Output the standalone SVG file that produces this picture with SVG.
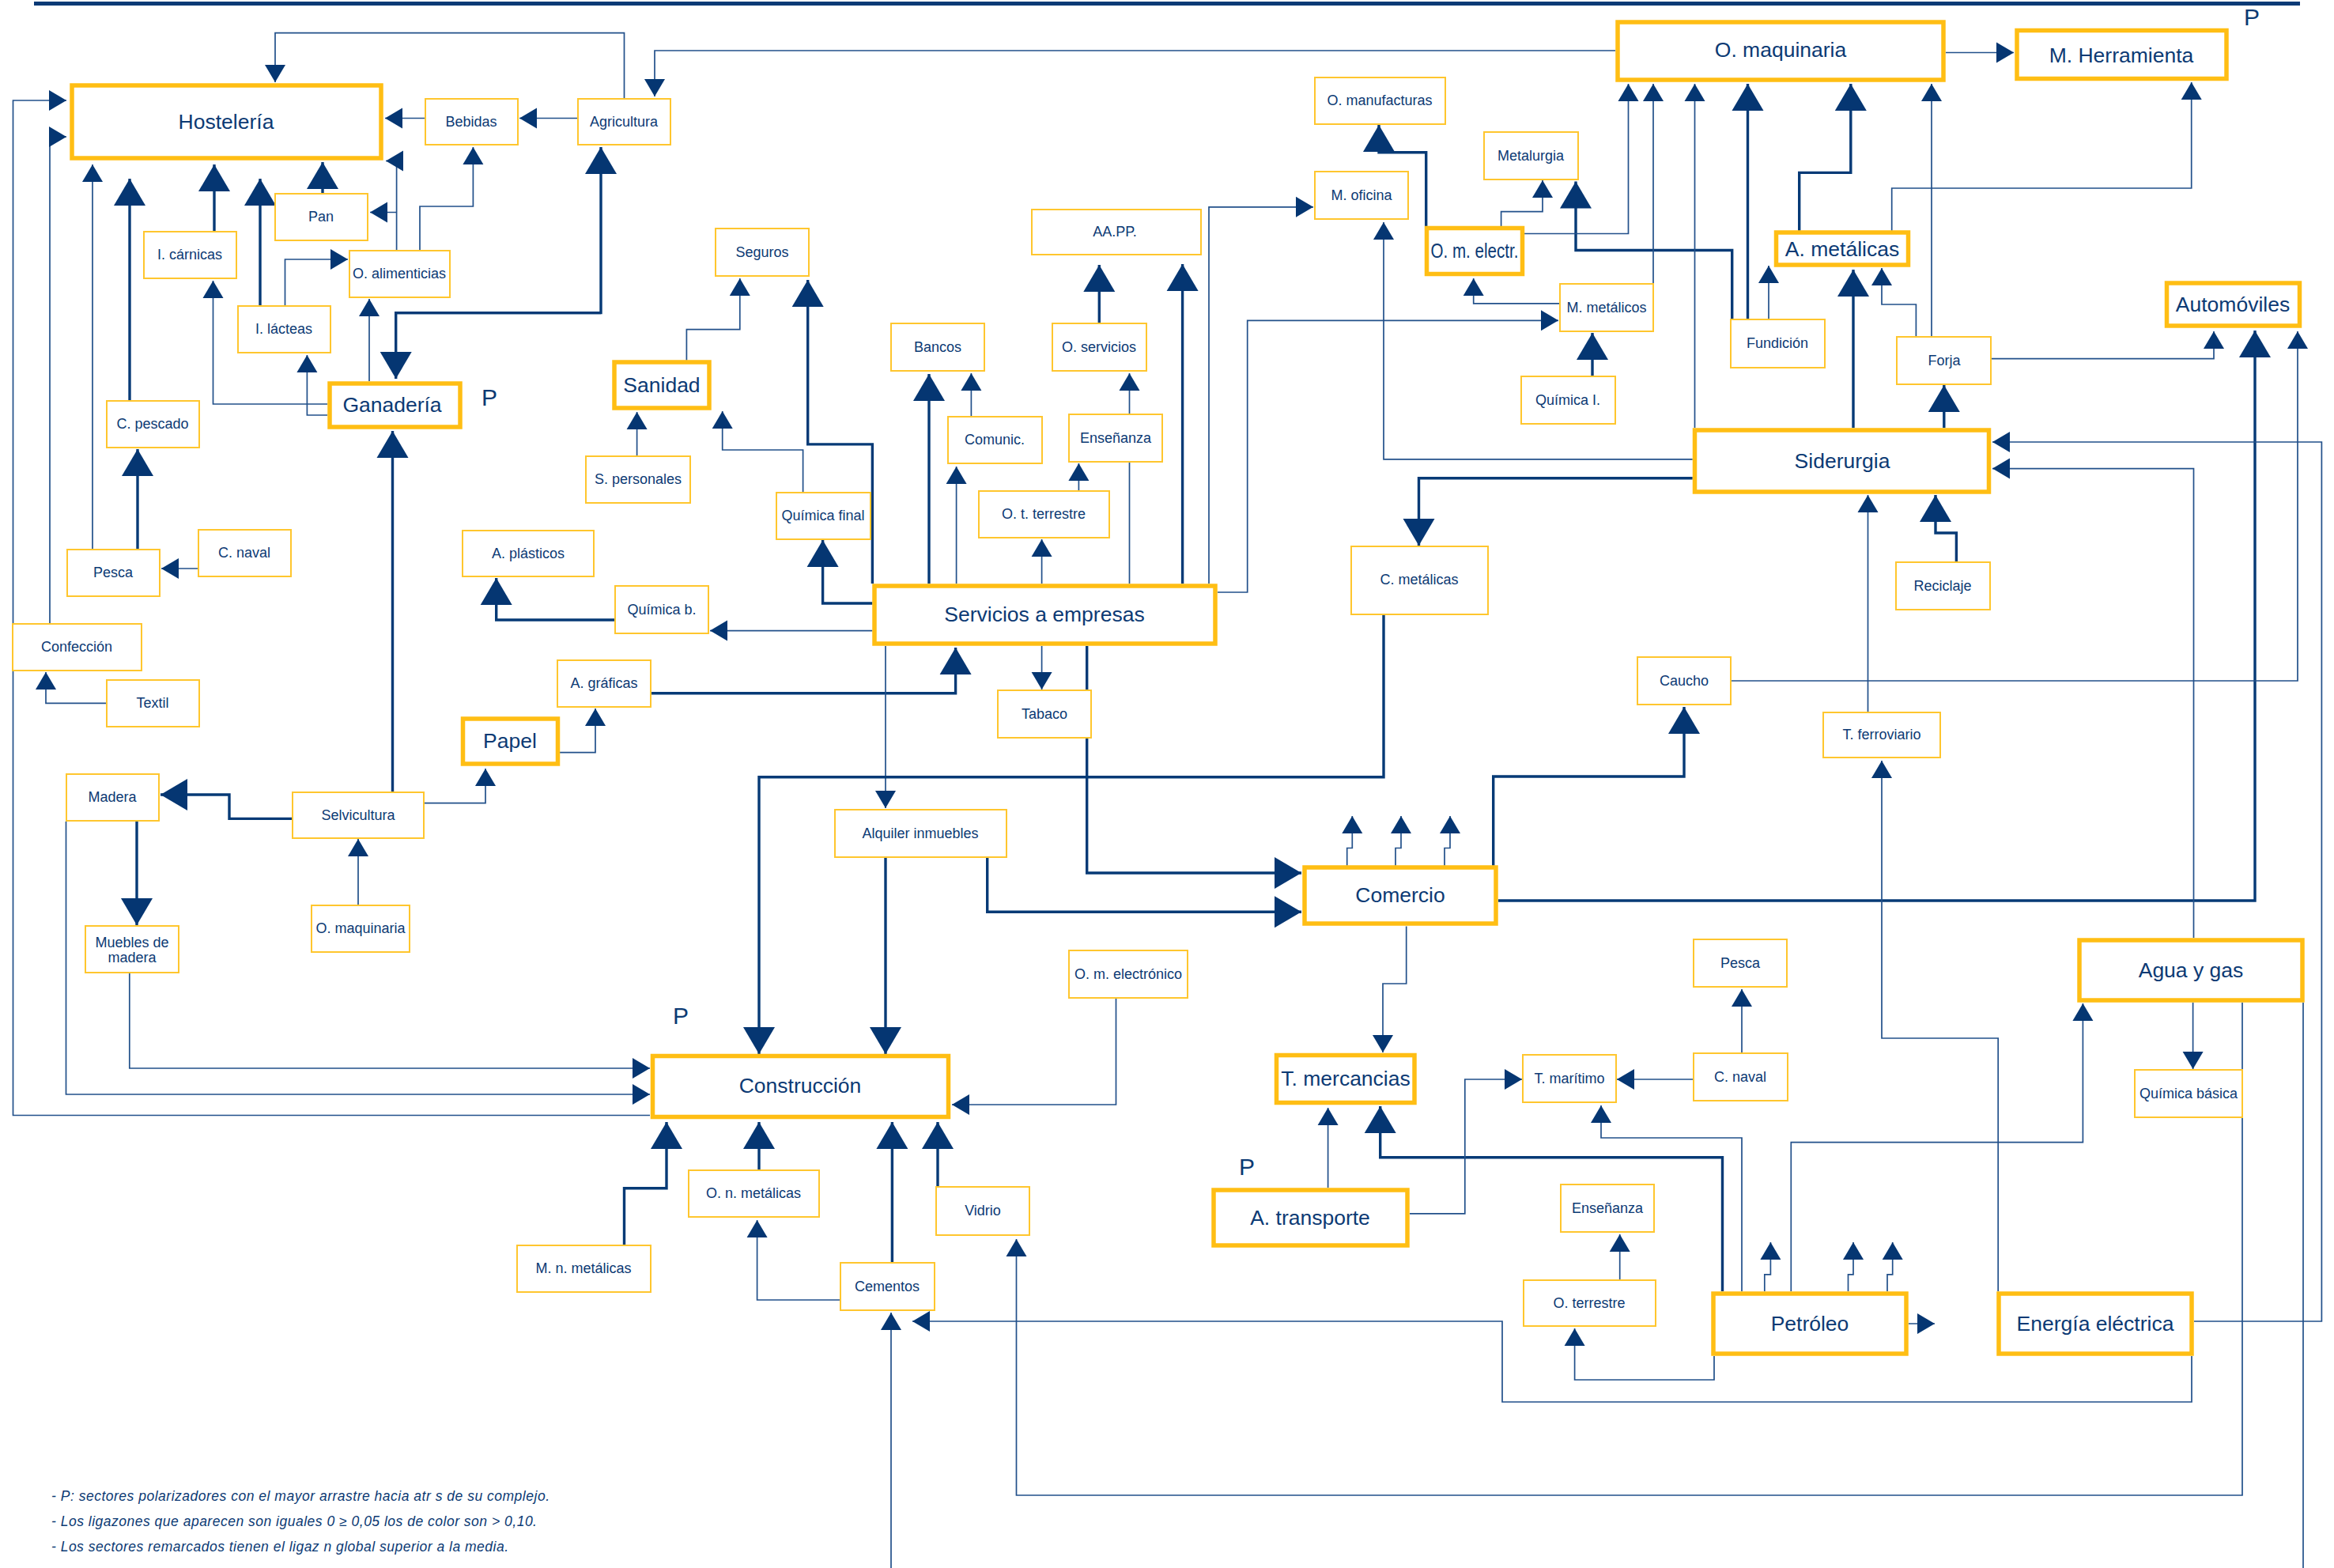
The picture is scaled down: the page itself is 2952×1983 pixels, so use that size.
<svg xmlns="http://www.w3.org/2000/svg" width="2952" height="1983" viewBox="0 0 2952 1983">
<style>
.n{fill:#fff;stroke:#FFC62E;stroke-width:2}
.N{fill:#fff;stroke:#FFBE14;stroke-width:5.5}
text{font-family:"Liberation Sans",Arial,sans-serif;fill:#0c3a74}
.t{font-size:18px;text-anchor:middle;dominant-baseline:central}
.T{font-size:26.5px;text-anchor:middle;dominant-baseline:central}
.p{font-size:30px}
.f{font-size:17.5px;font-style:italic}
.c path{fill:none;stroke-linejoin:miter}
.c .a{stroke:#22508a;stroke-width:1.7;marker-end:url(#s)}
.c .l{stroke:#22508a;stroke-width:1.7}
.c .A{stroke:#063a76;stroke-width:3.4;marker-end:url(#b)}
</style>
<defs>
<marker id="s" markerUnits="userSpaceOnUse" markerWidth="22" markerHeight="26" refX="22" refY="13" orient="auto" overflow="visible"><path d="M0,0L22,13L0,26z" fill="#053672"/></marker>
<marker id="b" markerUnits="userSpaceOnUse" markerWidth="34" markerHeight="40" refX="34" refY="20" orient="auto" overflow="visible"><path d="M0,0L34,20L0,40z" fill="#053672"/></marker>
</defs>
<rect width="2952" height="1983" fill="#fff"/>
<line x1="43" y1="4.5" x2="2909" y2="4.5" stroke="#0a3a76" stroke-width="5"/>

<g id="connectors" class="c">
<path class="a" d="M789.5,124V41.7H348V104"/>
<path class="a" d="M2043,64H828V122"/>
<path class="a" d="M537,149.5H487"/>
<path class="a" d="M730,149.5H657"/>
<path class="a" d="M501.6,316V203.5H488"/>
<path class="a" d="M501.6,268.5H468"/>
<path class="a" d="M531,316V261H598.4V186"/>
<path class="a" d="M360.5,387V328H440"/>
<path class="a" d="M414,511H269.5V355"/>
<path class="a" d="M414,525H388.4V449"/>
<path class="a" d="M467,482V378"/>
<path class="A" d="M500.7,395.6H760V186"/>
<path class="A" d="M760,395.6H500.7V479"/>
<path class="A" d="M496.5,1001V545"/>
<path class="A" d="M271,292V208"/>
<path class="A" d="M164,506V226"/>
<path class="A" d="M329,386V226"/>
<path class="A" d="M408,244V205"/>
<path class="a" d="M117,695V208"/>
<path class="a" d="M63,788V173H84"/>
<path class="a" d="M822,1410.5H16.5V127H84"/>
<path class="A" d="M174,695V568"/>
<path class="a" d="M250.6,719H204"/>
<path class="a" d="M134.5,889.4H58V850"/>
<path class="A" d="M369.5,1035.4H290V1005H203"/>
<path class="A" d="M173,1039V1170"/>
<path class="a" d="M536.6,1015.6H614V972"/>
<path class="a" d="M453,1144V1061"/>
<path class="a" d="M83.5,1039V1384H822"/>
<path class="a" d="M163.8,1231V1351H822"/>
<path class="a" d="M708,951.7H753V896"/>
<path class="A" d="M823.5,876.7H1208.6V819"/>
<path class="A" d="M777.8,784H627.7V731"/>
<path class="a" d="M1103.4,797.6H898"/>
<path class="A" d="M1103.4,763H1040.6V683"/>
<path class="A" d="M1103.4,738V561.9H1021.7V354"/>
<path class="a" d="M868.4,455.8V416.7H935.8V352"/>
<path class="a" d="M805.6,576.6V521"/>
<path class="a" d="M1015.6,622V569H913.7V520"/>
<path class="A" d="M1175,738V473"/>
<path class="a" d="M1228.4,526V472"/>
<path class="a" d="M1209.6,738V590"/>
<path class="a" d="M1317.6,738V682"/>
<path class="a" d="M1364.4,620.8V586"/>
<path class="a" d="M1428.5,523.6V472"/>
<path class="l" d="M1428.5,738V584"/>
<path class="A" d="M1390.3,408V335"/>
<path class="A" d="M1495.6,738V334"/>
<path class="a" d="M1529,738V261.8H1661"/>
<path class="a" d="M1540,749H1577.7V405.3H1971"/>
<path class="a" d="M1317.6,817V872"/>
<path class="a" d="M1120,817V1022"/>
<path class="A" d="M1374.7,817V1104H1646"/>
<path class="A" d="M1248.7,1084V1153.3H1646"/>
<path class="A" d="M1120,1084V1333"/>
<path class="A" d="M1750,777.4V982.8H960V1333"/>
<path class="A" d="M2140.7,604.8H1794.5V690"/>
<path class="a" d="M2140.7,580.8H1750V281"/>
<path class="A" d="M1803.7,286V192.8H1744V158"/>
<path class="a" d="M1898.6,286V267.7H1951V228"/>
<path class="A" d="M2190.7,404V316.5H1993V229.5"/>
<path class="a" d="M1928,295.5H2059.5V106"/>
<path class="a" d="M2091,358.6V106"/>
<path class="a" d="M2143.5,541V106"/>
<path class="A" d="M2210.5,404V106"/>
<path class="a" d="M1972.7,383.8H1863.7V352"/>
<path class="A" d="M2014,475.6V421"/>
<path class="A" d="M2275.7,291.7V218.4H2340.8V106"/>
<path class="a" d="M2443,426V106"/>
<path class="a" d="M2392.7,291.7V238H2771.7V104"/>
<path class="a" d="M2461,66.5H2547"/>
<path class="a" d="M2237,404V336"/>
<path class="A" d="M2344,541V341"/>
<path class="a" d="M2423.4,426V385H2380V339"/>
<path class="A" d="M2458.8,541V487"/>
<path class="a" d="M2518.7,453.7H2800V419"/>
<path class="A" d="M1895,1139H2852V418"/>
<path class="a" d="M2189,861H2906V419"/>
<path class="a" d="M2775,1671H2936.4V559H2520"/>
<path class="a" d="M2774.5,1186V592.6H2520"/>
<path class="a" d="M2362.5,900.7V626"/>
<path class="A" d="M2474.4,711V674H2448V626"/>
<path class="A" d="M1888.7,1094.8V982H2130V894"/>
<path class="a" d="M1703.7,1094.8V1072.5H1710.3V1032"/>
<path class="a" d="M1765,1094.8V1072.5H1772V1032"/>
<path class="a" d="M1827,1094.8V1072.5H1834V1032"/>
<path class="a" d="M1778.7,1171.4V1244H1749V1331"/>
<path class="a" d="M2527.2,1633V1313H2380V962"/>
<path class="a" d="M2265.3,1633V1444.7H2634.4V1269"/>
<path class="a" d="M2773.6,1268V1352"/>
<path class="a" d="M2836,1268V1891H1285.5V1567"/>
<path class="l" d="M2913,1268V1983"/>
<path class="a" d="M1127,1983V1660"/>
<path class="a" d="M2772,1715V1773H1900V1671H1154"/>
<path class="A" d="M2178.5,1633V1463.8H1745.7V1399"/>
<path class="a" d="M2203,1633V1439H2025V1398"/>
<path class="a" d="M2142,1365H2045"/>
<path class="a" d="M2203,1332V1251"/>
<path class="a" d="M1679.6,1502V1401"/>
<path class="a" d="M1783,1534.8H1852.8V1365H1925"/>
<path class="a" d="M2048.7,1618.5V1561"/>
<path class="a" d="M2168,1715V1745H1991.6V1680"/>
<path class="a" d="M2231.8,1633V1611.8H2239.4V1571"/>
<path class="a" d="M2337.5,1633V1611.8H2344V1571"/>
<path class="a" d="M2387,1633V1611.8H2393.7V1571"/>
<path class="a" d="M2414,1674H2447"/>
<path class="a" d="M1411.5,1262.7V1397H1204"/>
<path class="A" d="M789.5,1574V1502.7H843V1419"/>
<path class="A" d="M960,1479V1419"/>
<path class="A" d="M1128.4,1597V1419"/>
<path class="A" d="M1186,1501V1419"/>
<path class="a" d="M1063,1644H957.6V1543"/>
</g>

<g id="hosteleria"><rect class="N" x="91" y="108" width="391" height="92"/><text class="T" x="286" y="154">Hostelería</text></g>
<g id="bebidas"><rect class="n" x="538" y="125" width="117" height="58"/><text class="t" x="596" y="154">Bebidas</text></g>
<g id="agricultura"><rect class="n" x="731" y="125" width="117" height="58"/><text class="t" x="789" y="154">Agricultura</text></g>
<g id="pan"><rect class="n" x="348" y="245" width="117" height="59"/><text class="t" x="406" y="274">Pan</text></g>
<g id="i-carnicas"><rect class="n" x="182" y="293" width="117" height="59"/><text class="t" x="240" y="322">I. cárnicas</text></g>
<g id="o-alimenticias"><rect class="n" x="442" y="317" width="127" height="59"/><text class="t" x="505" y="346">O. alimenticias</text></g>
<g id="i-lacteas"><rect class="n" x="301" y="387" width="117" height="59"/><text class="t" x="359" y="416">I. lácteas</text></g>
<g id="ganaderia"><rect class="N" x="417" y="485" width="165" height="55"/><text class="T" x="496" y="512">Ganadería</text><text class="p" x="609" y="513">P</text></g>
<g id="c-pescado"><rect class="n" x="135" y="507" width="117" height="59"/><text class="t" x="193" y="536">C. pescado</text></g>
<g id="pesca-1"><rect class="n" x="85" y="695" width="117" height="59"/><text class="t" x="143" y="724">Pesca</text></g>
<g id="c-naval-1"><rect class="n" x="251" y="670" width="117" height="59"/><text class="t" x="309" y="699">C. naval</text></g>
<g id="confeccion"><rect class="n" x="16" y="789" width="163" height="59"/><text class="t" x="97" y="818">Confección</text></g>
<g id="textil"><rect class="n" x="135" y="860" width="117" height="59"/><text class="t" x="193" y="889">Textil</text></g>
<g id="madera"><rect class="n" x="84" y="979" width="117" height="59"/><text class="t" x="142" y="1008">Madera</text></g>
<g id="selvicultura"><rect class="n" x="370" y="1002" width="166" height="58"/><text class="t" x="453" y="1031">Selvicultura</text></g>
<g id="muebles"><rect class="n" x="108" y="1171" width="118" height="59"/><text class="t" x="167" y="1192">Muebles de</text><text class="t" x="167" y="1211">madera</text></g>
<g id="o-maquinaria-2"><rect class="n" x="394" y="1145" width="124" height="59"/><text class="t" x="456" y="1174">O. maquinaria</text></g>
<g id="papel"><rect class="N" x="585.5" y="909" width="120" height="57"/><text class="T" x="645" y="937">Papel</text></g>
<g id="a-graficas"><rect class="n" x="705" y="835" width="118" height="59"/><text class="t" x="764" y="864">A. gráficas</text></g>
<g id="a-plasticos"><rect class="n" x="585" y="671" width="166" height="58"/><text class="t" x="668" y="700">A. plásticos</text></g>
<g id="quimica-b"><rect class="n" x="778" y="741" width="118" height="60"/><text class="t" x="837" y="771">Química b.</text></g>
<g id="s-personales"><rect class="n" x="741" y="577" width="132" height="59"/><text class="t" x="807" y="606">S. personales</text></g>
<g id="sanidad"><rect class="N" x="777" y="458" width="120" height="58"/><text class="T" x="837" y="487">Sanidad</text></g>
<g id="seguros"><rect class="n" x="905" y="289" width="118" height="60"/><text class="t" x="964" y="319">Seguros</text></g>
<g id="quimica-final"><rect class="n" x="982" y="623" width="119" height="59"/><text class="t" x="1041" y="652">Química final</text></g>
<g id="bancos"><rect class="n" x="1127" y="409" width="118" height="60"/><text class="t" x="1186" y="439">Bancos</text></g>
<g id="comunic"><rect class="n" x="1199" y="527" width="119" height="59"/><text class="t" x="1258" y="556">Comunic.</text></g>
<g id="o-servicios"><rect class="n" x="1331" y="409" width="119" height="60"/><text class="t" x="1390" y="439">O. servicios</text></g>
<g id="ensenanza-1"><rect class="n" x="1352" y="524" width="118" height="60"/><text class="t" x="1411" y="554">Enseñanza</text></g>
<g id="aapp"><rect class="n" x="1305" y="265" width="214" height="57"/><text class="t" x="1410" y="293">AA.PP.</text></g>
<g id="o-t-terrestre"><rect class="n" x="1238" y="621" width="165" height="59"/><text class="t" x="1320" y="650">O. t. terrestre</text></g>
<g id="servicios"><rect class="N" x="1106" y="741" width="431" height="73"/><text class="T" x="1321" y="777">Servicios a empresas</text></g>
<g id="tabaco"><rect class="n" x="1262" y="873" width="118" height="60"/><text class="t" x="1321" y="903">Tabaco</text></g>
<g id="alquiler"><rect class="n" x="1056" y="1024" width="217" height="60"/><text class="t" x="1164" y="1054">Alquiler inmuebles</text></g>
<g id="o-manufacturas"><rect class="n" x="1663" y="98" width="165" height="59"/><text class="t" x="1745" y="127">O. manufacturas</text></g>
<g id="m-oficina"><rect class="n" x="1663" y="217" width="118" height="60"/><text class="t" x="1722" y="247">M. oficina</text></g>
<g id="metalurgia"><rect class="n" x="1877" y="167" width="119" height="60"/><text class="t" x="1936" y="197">Metalurgia</text></g>
<g id="o-m-electr"><rect class="N" x="1804.5" y="288.5" width="121" height="58"/><text class="T" x="1865" y="317" textLength="111" lengthAdjust="spacingAndGlyphs">O. m. electr.</text></g>
<g id="m-metalicos"><rect class="n" x="1973" y="359" width="118" height="60"/><text class="t" x="2032" y="389">M. metálicos</text></g>
<g id="quimica-l"><rect class="n" x="1924" y="476" width="119" height="60"/><text class="t" x="1983" y="506">Química I.</text></g>
<g id="o-maquinaria"><rect class="N" x="2046" y="28" width="412" height="73"/><text class="T" x="2252" y="63">O. maquinaria</text></g>
<g id="m-herramienta"><rect class="N" x="2551" y="38.5" width="265" height="61"/><text class="T" x="2683" y="70">M. Herramienta</text><text class="p" x="2838" y="32">P</text></g>
<g id="a-metalicas"><rect class="N" x="2246.5" y="294" width="167" height="41"/><text class="T" x="2330" y="315">A. metálicas</text></g>
<g id="fundicion"><rect class="n" x="2189" y="404" width="119" height="61"/><text class="t" x="2248" y="434">Fundición</text></g>
<g id="forja"><rect class="n" x="2399" y="426" width="119" height="60"/><text class="t" x="2459" y="456">Forja</text></g>
<g id="automoviles"><rect class="N" x="2740.5" y="358" width="168" height="54"/><text class="T" x="2824" y="385">Automóviles</text></g>
<g id="siderurgia"><rect class="N" x="2143.5" y="544" width="372" height="78"/><text class="T" x="2330" y="583">Siderurgia</text></g>
<g id="reciclaje"><rect class="n" x="2398" y="711" width="119" height="60"/><text class="t" x="2457" y="741">Reciclaje</text></g>
<g id="c-metalicas"><rect class="n" x="1709" y="691" width="173" height="86"/><text class="t" x="1795" y="733">C. metálicas</text></g>
<g id="caucho"><rect class="n" x="2071" y="831" width="118" height="60"/><text class="t" x="2130" y="861">Caucho</text></g>
<g id="t-ferroviario"><rect class="n" x="2306" y="901" width="148" height="57"/><text class="t" x="2380" y="929">T. ferroviario</text></g>
<g id="comercio"><rect class="N" x="1650" y="1097" width="242" height="71"/><text class="T" x="1771" y="1132">Comercio</text></g>
<g id="pesca-2"><rect class="n" x="2142" y="1188" width="118" height="60"/><text class="t" x="2201" y="1218">Pesca</text></g>
<g id="agua-gas"><rect class="N" x="2630" y="1189" width="282" height="76"/><text class="T" x="2771" y="1227">Agua y gas</text></g>
<g id="o-m-electronico"><rect class="n" x="1352" y="1202" width="150" height="60"/><text class="t" x="1427" y="1232">O. m. electrónico</text></g>
<g id="construccion"><rect class="N" x="825.5" y="1335.5" width="374" height="77"/><text class="T" x="1012" y="1373">Construcción</text><text class="p" x="851" y="1295">P</text></g>
<g id="t-mercancias"><rect class="N" x="1614.5" y="1334.5" width="174.5" height="60"/><text class="T" x="1702" y="1364">T. mercancias</text></g>
<g id="t-maritimo"><rect class="n" x="1926" y="1334" width="118" height="60"/><text class="t" x="1985" y="1364">T. marítimo</text></g>
<g id="c-naval-2"><rect class="n" x="2142" y="1332" width="119" height="60"/><text class="t" x="2201" y="1362">C. naval</text></g>
<g id="quimica-basica"><rect class="n" x="2700" y="1353" width="136" height="60"/><text class="t" x="2768" y="1383">Química básica</text></g>
<g id="a-transporte"><rect class="N" x="1535" y="1505" width="245" height="70"/><text class="T" x="1657" y="1540">A. transporte</text><text class="p" x="1567" y="1486">P</text></g>
<g id="ensenanza-2"><rect class="n" x="1974" y="1498" width="118" height="60"/><text class="t" x="2033" y="1528">Enseñanza</text></g>
<g id="o-terrestre"><rect class="n" x="1927" y="1619" width="167" height="58"/><text class="t" x="2010" y="1648">O. terrestre</text></g>
<g id="petroleo"><rect class="N" x="2167" y="1636" width="244" height="76"/><text class="T" x="2289" y="1674">Petróleo</text></g>
<g id="energia"><rect class="N" x="2528" y="1636" width="244" height="76"/><text class="T" x="2650" y="1674">Energía eléctrica</text></g>
<g id="m-n-metalicas"><rect class="n" x="654" y="1575" width="169" height="59"/><text class="t" x="738" y="1604">M. n. metálicas</text></g>
<g id="o-n-metalicas"><rect class="n" x="871" y="1480" width="165" height="59"/><text class="t" x="953" y="1509">O. n. metálicas</text></g>
<g id="cementos"><rect class="n" x="1063" y="1597" width="119" height="60"/><text class="t" x="1122" y="1627">Cementos</text></g>
<g id="vidrio"><rect class="n" x="1184" y="1501" width="118" height="61"/><text class="t" x="1243" y="1531">Vidrio</text></g>

<g id="notes">
<text class="f" x="65" y="1898" textLength="630">- P: sectores polarizadores con el mayor arrastre hacia atr s de su complejo.</text>
<text class="f" x="65" y="1930" textLength="614">- Los ligazones que aparecen son iguales 0 ≥ 0,05 los de color son &gt; 0,10.</text>
<text class="f" x="65" y="1961.5" textLength="578">- Los sectores remarcados tienen el ligaz n global superior a la media.</text>
</g>
</svg>
